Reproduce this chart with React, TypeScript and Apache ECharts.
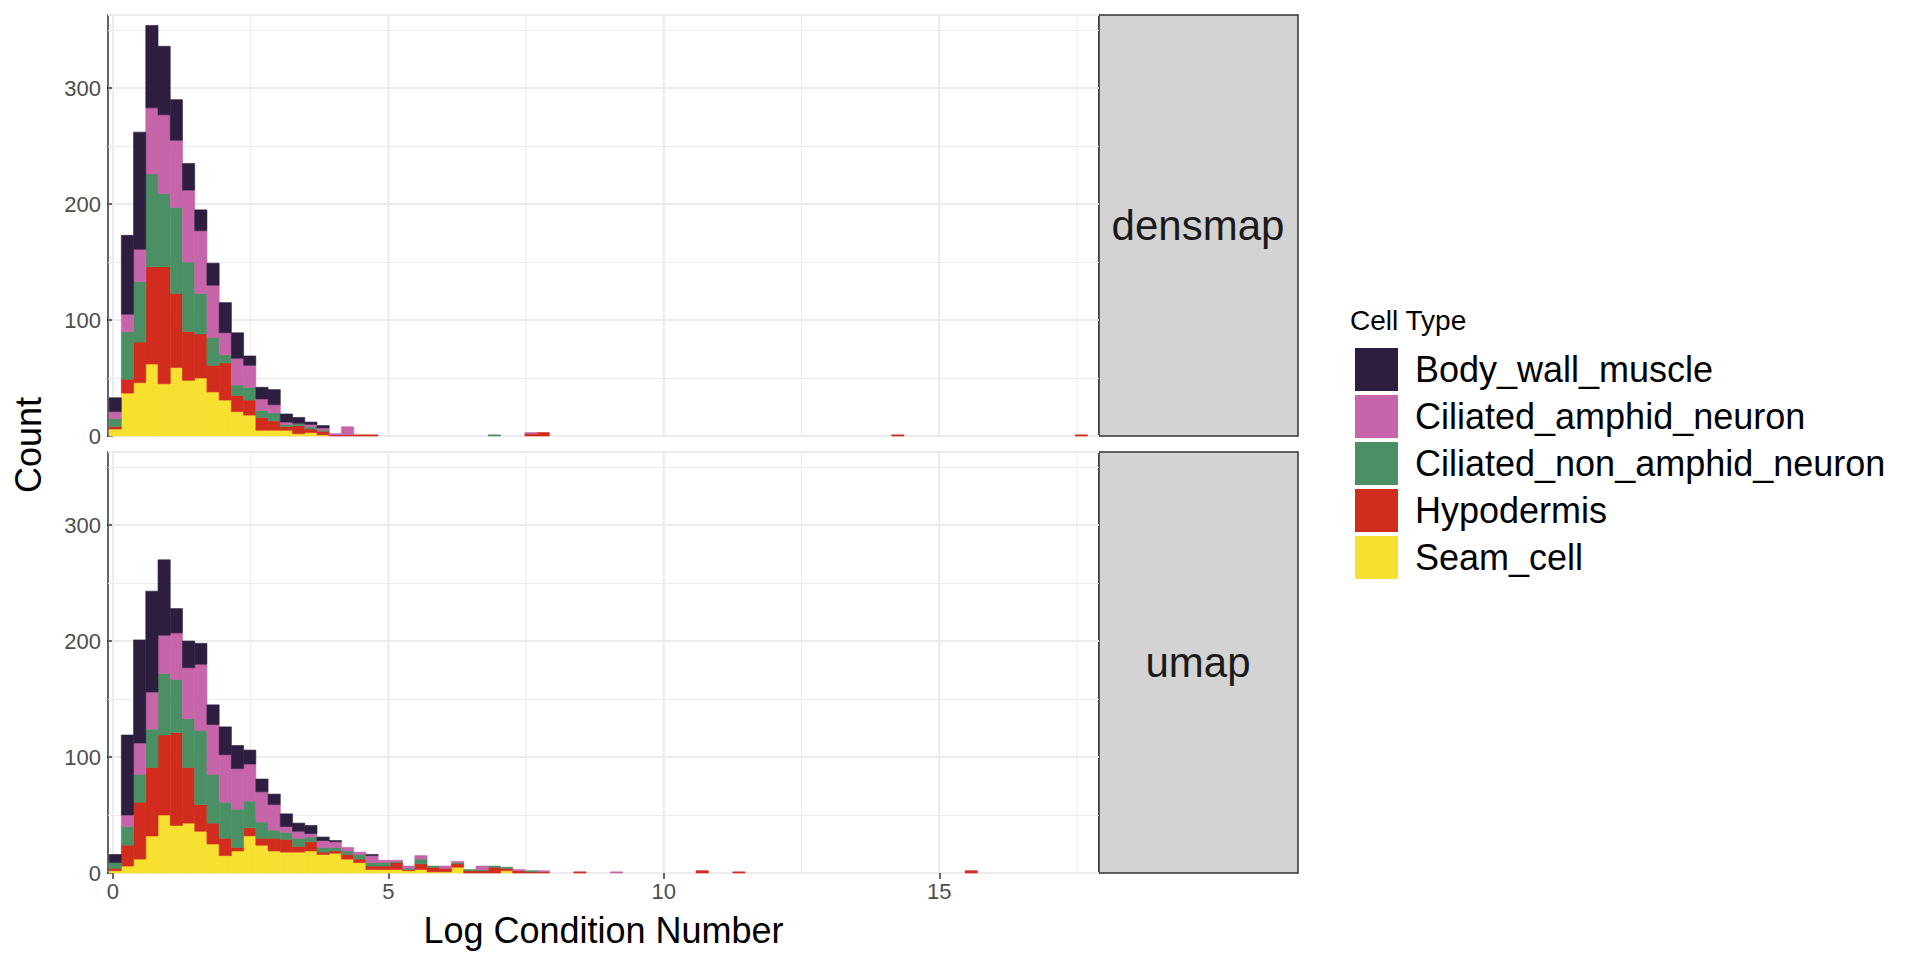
import React, { useEffect, useRef } from "react";
import * as echarts from "echarts";

const cellTypes = ["Body_wall_muscle", "Ciliated_amphid_neuron", "Ciliated_non_amphid_neuron", "Hypodermis", "Seam_cell"];
const colors = ["#2d1e3f", "#c665a9", "#4b9065", "#d12c1d", "#f7e02f"];
const panels = ["densmap", "umap"];
const binStart = -0.07;
const binWidth = 0.222;

// densmap, bins from 0
const dmMuscle = [12, 68, 101, 71, 59, 35, 23, 18, 19, 26, 22, 8, 10, 13, 7, 5, 2, 2, 0, 0];
const dmAmphid = [6, 15, 28, 57, 68, 58, 62, 54, 45, 19, 23, 19, 10, 7, 2, 0, 2, 2, 1, 7];
const dmNonAmphid = [7, 41, 52, 80, 63, 74, 60, 35, 24, 7, 9, 11, 6, 7, 2, 2, 2, 1, 0, 0];
const dmHypo = [2, 12, 35, 84, 101, 64, 42, 38, 23, 32, 14, 13, 11, 8, 3, 7, 3, 3, 1, 1];
const dmSeam = [6, 37, 46, 62, 45, 59, 48, 50, 38, 31, 21, 18, 5, 5, 5, 2, 3, 1, 0, 0];
// sparse tail [bin, count]
const dmTailAmphid = [[34, 1]];
const dmTailNonAmphid = [[31, 1]];
const dmTailHypo = [[20, 1], [21, 1], [34, 2], [35, 3], [64, 1], [79, 1]];

// umap
const umMuscle = [7, 69, 89, 87, 65, 21, 23, 18, 17, 24, 20, 12, 11, 9, 11, 7, 7, 3, 1, 0, 0, 1];
const umAmphid = [0, 10, 27, 32, 33, 40, 44, 57, 43, 41, 35, 32, 26, 22, 5, 6, 3, 6, 5, 3, 2, 6, 2, 1, 2, 3, 0, 2, 1, 0, 3, 0, 0, 1, 0, 1];
const umNonAmphid = [5, 16, 24, 33, 53, 46, 42, 64, 42, 31, 33, 23, 14, 7, 6, 7, 4, 4, 3, 3, 4, 3, 3, 1, 1, 4, 1, 0, 1, 1, 1, 1, 1, 0, 1, 0];
const umHypo = [2, 18, 49, 59, 69, 80, 48, 23, 18, 15, 3, 7, 6, 11, 11, 5, 8, 2, 2, 4, 3, 3, 3, 6, 1, 5, 4, 3, 3, 2, 2, 5, 2, 2, 1, 1];
const umSeam = [2, 6, 12, 32, 50, 41, 43, 36, 25, 15, 19, 32, 24, 19, 18, 18, 19, 16, 17, 12, 9, 3, 3, 3, 2, 3, 1, 1, 5, 0, 0, 0, 2, 0, 0, 0];
const umTailAmphid = [[41, 1]];
const umTailHypo = [[38, 1], [48, 2], [51, 1], [70, 2]];

const xTicks = [0, 5, 10, 15];
const xMinor = [2.5, 7.5, 12.5, 17.5];

function dense(arr: number[], tail: number[][] = []) {
  const out = new Array(82).fill(0);
  arr.forEach((v, i) => (out[i] = v));
  tail.forEach(([b, v]) => (out[b] += v));
  return out;
}

const panelData = [
  [dense(dmMuscle), dense(dmAmphid, dmTailAmphid), dense(dmNonAmphid, dmTailNonAmphid), dense(dmHypo, dmTailHypo), dense(dmSeam)],
  [dense(umMuscle), dense(umAmphid, umTailAmphid), dense(umNonAmphid), dense(umHypo, umTailHypo), dense(umSeam)],
];

const FONT = "Liberation Sans, Arial, sans-serif";

export default function App() {
  const ref = useRef<HTMLDivElement>(null);
  useEffect(() => {
    const chart = echarts.init(ref.current!, null, { renderer: "svg" });
    const grids = [
      { left: 100, top: 7, width: 991, height: 421 },
      { left: 100, top: 444, width: 991, height: 421 },
    ];
    const series: any[] = [];
    panels.forEach((_, p) => {
      series.push({
        type: "custom", xAxisIndex: p, yAxisIndex: p, silent: true, z: 1,
        data: [...xTicks.map((v) => [v, 1]), ...xMinor.map((v) => [v, 0])],
        renderItem: (params: any, api: any) => {
          const x = api.value(0);
          const a = api.coord([x, 0]);
          const b = api.coord([x, 363]);
          return { type: "line", shape: { x1: a[0], y1: a[1], x2: b[0], y2: b[1] }, style: { stroke: "#ebebeb", lineWidth: api.value(1) ? 2 : 1 } };
        },
      });
      const base = new Array(82).fill(0);
      for (let s = 4; s >= 0; s--) {
        const vals = panelData[p][s];
        const data: number[][] = [];
        vals.forEach((v, i) => {
          if (v > 0) data.push([binStart + i * binWidth, binStart + (i + 1) * binWidth, base[i], base[i] + v]);
          base[i] += v;
        });
        series.push({
          type: "custom", name: cellTypes[s], xAxisIndex: p, yAxisIndex: p, z: 3,
          itemStyle: { color: colors[s] },
          data,
          renderItem: (params: any, api: any) => {
            const a = api.coord([api.value(0), api.value(3)]);
            const b = api.coord([api.value(1), api.value(2)]);
            return { type: "rect", shape: { x: a[0], y: a[1], width: b[0] - a[0], height: b[1] - a[1] }, style: { fill: colors[s], stroke: colors[s], lineWidth: 0.6 } };
          },
        });
      }
    });
    chart.setOption({
      animation: false,
      textStyle: { fontFamily: FONT },
      grid: grids.map((g) => ({ ...g, show: true, borderColor: "#333", borderWidth: 1.5, backgroundColor: "#fff" })),
      xAxis: [0, 1].map((p) => ({
        type: "value", gridIndex: p, min: -0.09, max: 17.9,
        splitLine: { show: false },
        axisLine: { show: false },
        axisTick: p === 1 ? { show: true, customValues: xTicks, length: 6, lineStyle: { color: "#333", width: 1.5 } } : { show: false },
        axisLabel: p === 1 ? { show: true, customValues: xTicks, color: "#4d4d4d", fontSize: 22, margin: 7 } : { show: false },
        name: p === 1 ? "Log Condition Number" : "",
        nameLocation: "middle", nameGap: 39, nameTextStyle: { fontSize: 36, color: "#000" },
      })),
      yAxis: [0, 1].map((p) => ({
        type: "value", gridIndex: p, min: 0, max: 363, interval: 100,
        axisLine: { show: false },
        axisTick: { show: true, length: 6, lineStyle: { color: "#333", width: 1.5 } },
        axisLabel: { color: "#4d4d4d", fontSize: 22, margin: 7, showMaxLabel: false },
        splitLine: { show: true, lineStyle: { color: "#ebebeb", width: 2 } },
        minorTick: { show: false, splitNumber: 2 },
        minorSplitLine: { show: true, lineStyle: { color: "#ebebeb", width: 1 } },
      })),
      legend: {
        left: 1342, top: 335, orient: "vertical", itemWidth: 43, itemHeight: 43, itemGap: 4,
        icon: "rect", data: cellTypes, selectedMode: false,
        textStyle: { fontSize: 36, color: "#000", padding: [0, 0, 0, 12] },
      },
      graphic: [
        { type: "text", left: 1342, top: 298, style: { text: "Cell Type", fontSize: 28, fill: "#000", fontFamily: FONT } },
        { type: "text", x: 20, y: 437, rotation: Math.PI / 2, style: { text: "Count", fontSize: 36, fill: "#000", fontFamily: FONT, textAlign: "center", textVerticalAlign: "middle" } },
        ...grids.flatMap((g, i) => [
          { type: "rect", shape: { x: 1091, y: g.top, width: 199, height: g.height }, style: { fill: "#d3d3d3", stroke: "#333", lineWidth: 1.5 } },
          { type: "text", x: 1190, y: g.top + g.height / 2, style: { text: panels[i], fontSize: 42, fill: "#1a1a1a", textAlign: "center", textVerticalAlign: "middle", fontFamily: FONT } },
        ]),
      ],
      series,
    });
    return () => chart.dispose();
  }, []);
  return <div ref={ref} style={{ width: 1904, height: 944 }} />;
}
